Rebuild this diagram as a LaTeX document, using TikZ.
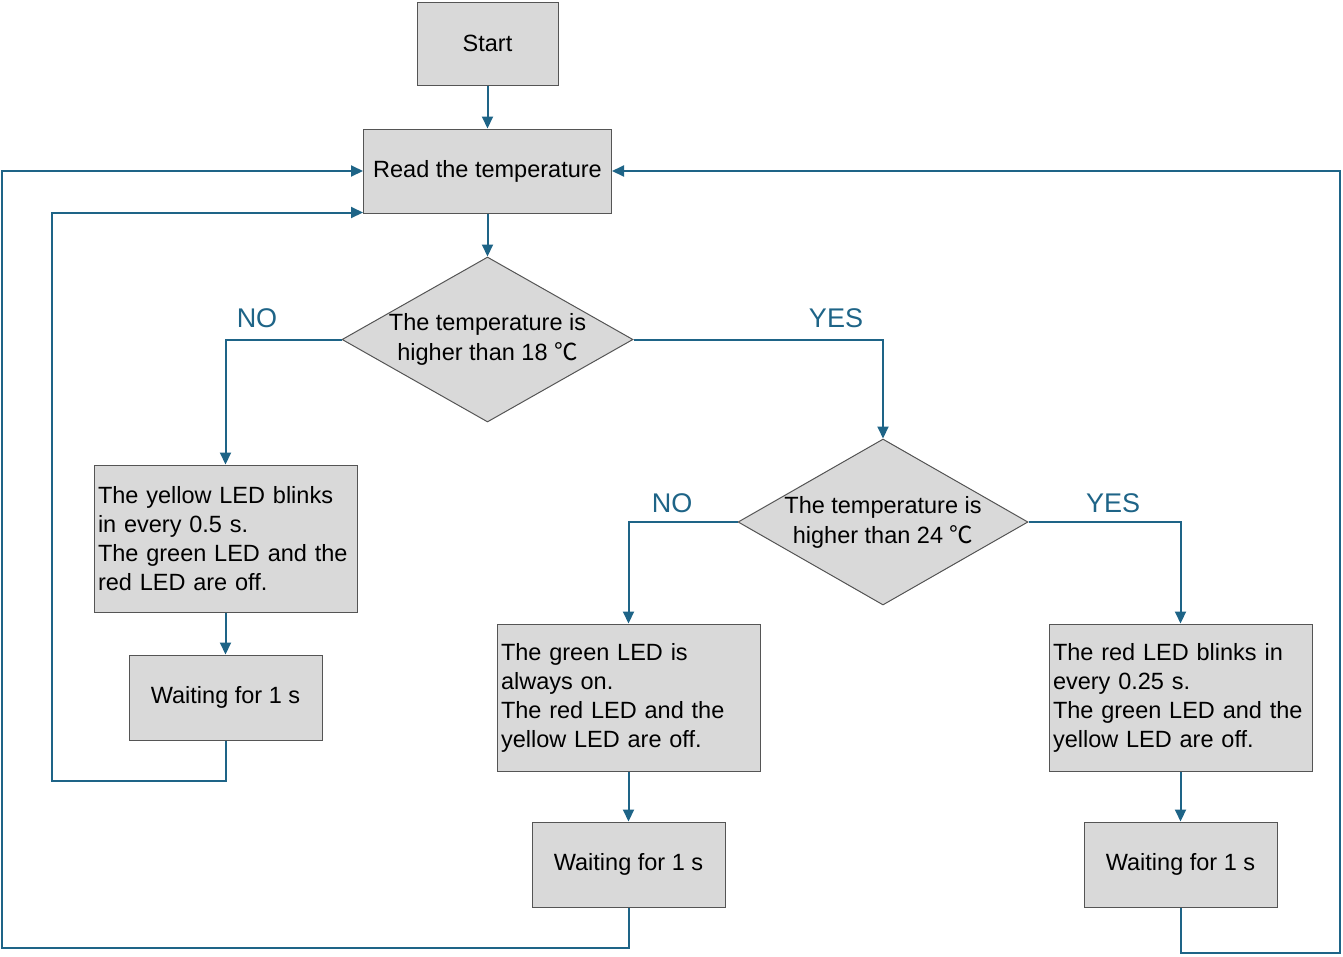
\documentclass[tikz,border=0pt]{standalone}
\usepackage{fontspec}
\setmainfont{Liberation Sans}
\newfontfamily\cjk{Noto Sans CJK SC}
\usetikzlibrary{shapes.geometric,arrows.meta,calc}
\definecolor{flow}{RGB}{30,100,135}
\definecolor{boxfill}{RGB}{217,217,217}
\definecolor{boxline}{RGB}{85,85,85}
\tikzset{
  box/.style={draw=boxline,fill=boxfill,line width=1pt,inner sep=0pt,font=\fontsize{23.5}{29}\selectfont},
  dia/.style={draw=boxline,fill=boxfill,line width=1pt,shape=diamond,inner sep=0pt,minimum width=291pt,minimum height=165pt},
  diatext/.style={align=center,font=\fontsize{23.5}{30}\selectfont},
  conn/.style={draw=flow,line width=2pt,-{Triangle[length=12pt,width=11pt]}},
  lab/.style={text=flow,font=\fontsize{27}{30}\selectfont}
}
\begin{document}
\begin{tikzpicture}[x=1pt,y=-1pt]
\useasboundingbox (0,0) rectangle (1343,956);
% nodes
\node[box,minimum width=141pt,minimum height=83pt] (start) at (487.5,43.5) {Start};
\node[box,minimum width=248pt,minimum height=84pt] (read) at (487.5,171) {Read the temperature};
\node[dia,label={[diatext]center:The temperature is\\higher than 18 {\cjk ℃}}] (d1) at (487.5,339.5) {};
\node[dia,minimum width=290pt,minimum height=166pt,label={[diatext]center:The temperature is\\higher than 24 {\cjk ℃}}] (d2) at (883,522) {};
\node[box,minimum width=263pt,minimum height=147pt,text width=255pt,align=left] (yellow) at (225.5,538.5) {The yellow LED blinks\\in every 0.5 s.\\The green LED and the\\red LED are off.};
\node[box,minimum width=193pt,minimum height=85pt] (w1) at (225.5,697.5) {Waiting for 1 s};
\node[box,minimum width=263pt,minimum height=147pt,text width=255pt,align=left] (green) at (628.5,697.5) {The green LED is\\always on.\\The red LED and the\\yellow LED are off.};
\node[box,minimum width=193pt,minimum height=85pt] (w2) at (628.5,864.5) {Waiting for 1 s};
\node[box,minimum width=263pt,minimum height=147pt,text width=255pt,align=left] (red) at (1180.5,697.5) {The red LED blinks in\\every 0.25 s.\\The green LED and the\\yellow LED are off.};
\node[box,minimum width=193pt,minimum height=85pt] (w3) at (1180.5,864.5) {Waiting for 1 s};
% labels
\node[lab] (no1) at (257,318) {NO};
\node[lab] (yes1) at (836,318) {YES};
\node[lab] (no2) at (672,503) {NO};
\node[lab] (yes2) at (1113,503) {YES};
% connectors
\draw[conn] (start) -- (read);
\draw[conn] (read) -- (d1);
\draw[conn] (d1.west) -| (yellow.north);
\draw[conn] (d1.east) -| (d2.north);
\draw[conn] (d2.west) -| (green.north);
\draw[conn] (d2.east) -| (red.north);
\draw[conn] (yellow) -- (w1);
\draw[conn] (green) -- (w2);
\draw[conn] (red) -- (w3);
\coordinate (l1a) at (225.5,781);
\coordinate (l1b) at (52,781);
\coordinate (l2a) at (628.5,948);
\coordinate (l2b) at (2,948);
\coordinate (l3a) at (1180.5,953);
\coordinate (l3b) at (1340,953);
\draw[conn] (w1.south) -- (l1a) -- (l1b) |- ($(read.south west)+(0,-1)$);
\draw[conn] (w2.south) -- (l2a) -- (l2b) |- (read.west);
\draw[conn] (w3.south) -- (l3a) -- (l3b) |- (read.east);
\end{tikzpicture}
\end{document}
